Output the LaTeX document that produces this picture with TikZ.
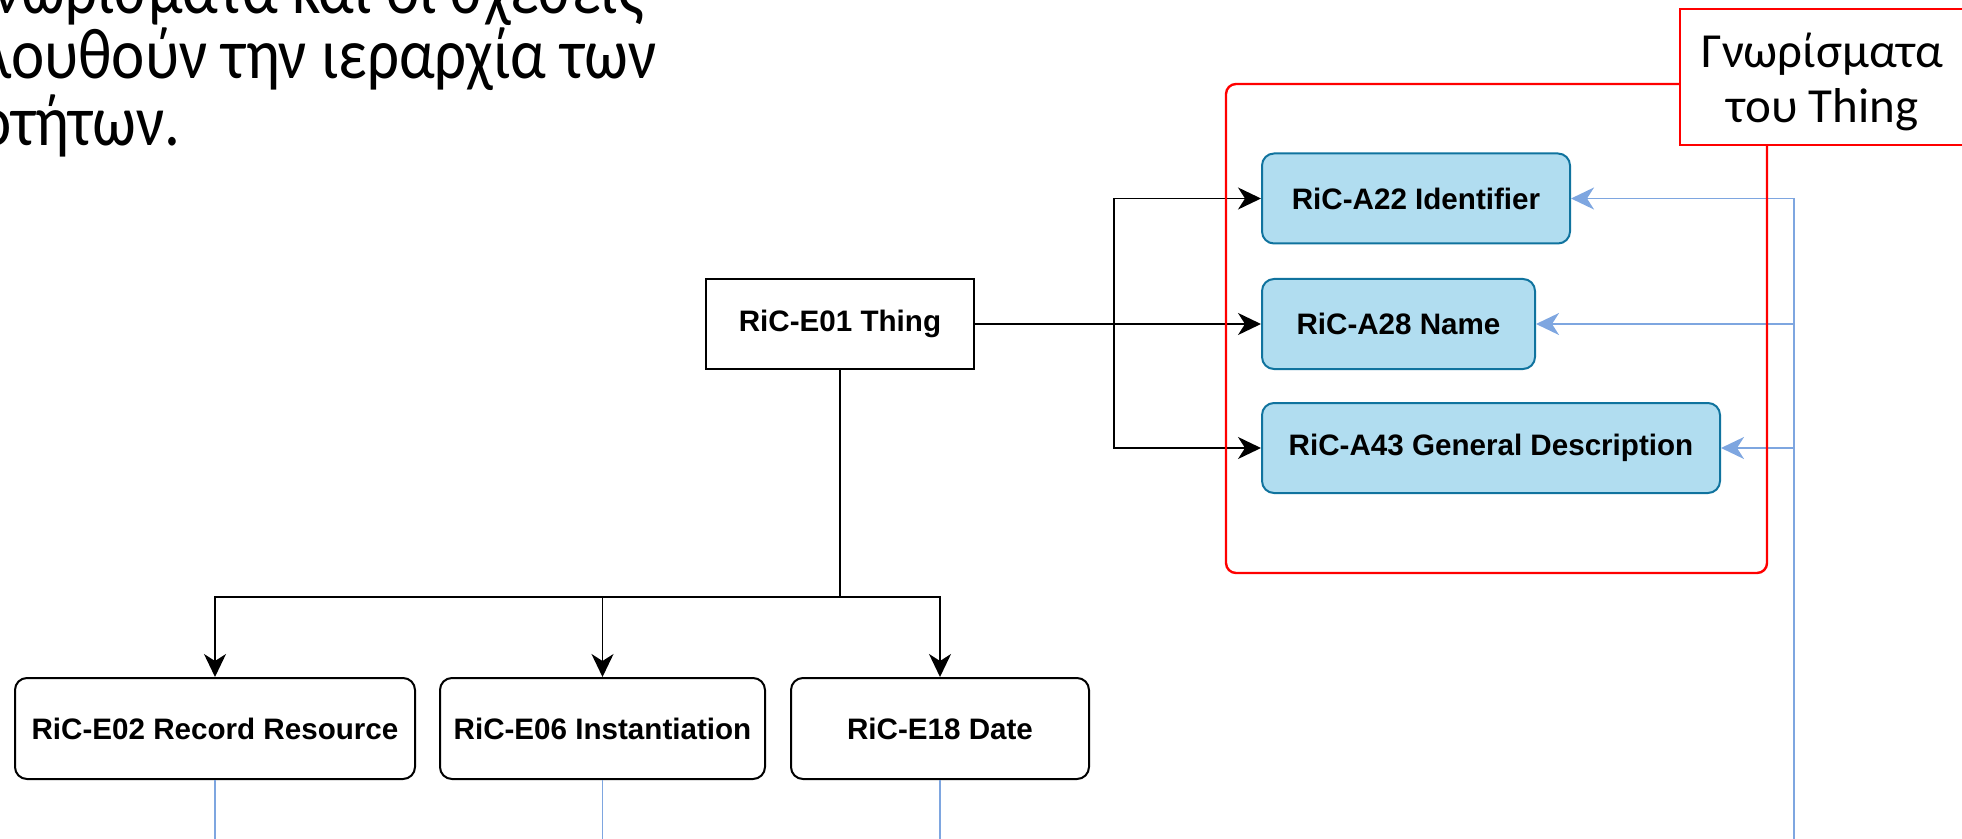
\documentclass[tikz,border=0pt]{standalone}
\usepackage{fontspec}
\setmainfont{Liberation Sans}
\newfontfamily\calfont{Carlito}
\newfontfamily\titlefont[FakeStretch=0.875]{Carlito}
\usetikzlibrary{arrows.meta}
\definecolor{bluefill}{HTML}{B1DDF0}
\definecolor{blueborder}{HTML}{10739E}
\definecolor{bluelink}{HTML}{7EA6E0}
\definecolor{redline}{HTML}{FF0000}
\begin{document}
\begin{tikzpicture}[x=0.5pt,y=-0.5pt,
  boxtext/.style={font=\bfseries\fontsize{14.8}{17}\selectfont, inner sep=0pt, minimum height=45pt},
  entity/.style={boxtext, draw=black, line width=1pt, fill=white},
  subentity/.style={entity, rounded corners=6pt},
  attrbox/.style={boxtext, draw=blueborder, line width=1pt, fill=bluefill, rounded corners=6pt},
  blackarrow/.style={draw=black, line width=0.9pt, -{Stealth[length=11.5pt,width=11pt,inset=3.5pt]}},
  bluearrow/.style={draw=bluelink, line width=0.9pt, -{Stealth[length=11.5pt,width=11pt,inset=3.5pt]}},
  blueline/.style={draw=bluelink, line width=0.9pt},
  titletext/.style={anchor=base west, inner sep=0pt, text depth=0pt, font=\titlefont\fontsize{36}{40}\selectfont},
]
\useasboundingbox (0,0) rectangle (1962,839);

% title text (cut at the left/top edge)
\node[titletext] (t1) at (-7,14) {νωρίσματα και οι σχέσεις};
\node[titletext] (t2) at (-18,79) {λουθούν την ιεραρχία των};
\node[titletext] (t3) at (-22,145.7) {οτήτων.};

% nodes
\node[entity, minimum width=134pt] (thing) at (840,324) {RiC-E01 Thing};
\node[attrbox, minimum width=154pt] (ident) at (1416,198.5) {RiC-A22 Identifier};
\node[attrbox, minimum width=136.5pt] (name) at (1398.5,324) {RiC-A28 Name};
\node[attrbox, minimum width=229pt] (gdesc) at (1491,448) {RiC-A43 General Description};
\node[subentity, minimum width=200pt, minimum height=50.5pt] (rr) at (215,728.5) {RiC-E02 Record Resource};
\node[subentity, minimum width=162.5pt, minimum height=50.5pt] (inst) at (602.5,728.5) {RiC-E06 Instantiation};
\node[subentity, minimum width=149pt, minimum height=50.5pt] (date) at (940,728.5) {RiC-E18 Date};

% black connectors
\draw[blackarrow] (thing.east) -- (name.west);
\draw[blackarrow] (thing.east) -- ++(139,0) |- (ident.west);
\draw[blackarrow] (thing.east) -- ++(139,0) |- (gdesc.west);
\draw[blackarrow] (thing.south) -- ++(0,227) -| (rr.north);
\draw[blackarrow] (thing.south) -- ++(0,227) -| (inst.north);
\draw[blackarrow] (thing.south) -- ++(0,227) -| (date.north);

% blue connectors
\coordinate (bluebus) at (1794,870);
\draw[bluearrow] (bluebus) |- (ident.east);
\draw[bluearrow] (bluebus) |- (name.east);
\draw[bluearrow] (bluebus) |- (gdesc.east);
\coordinate (rrend) at (215,870);
\coordinate (instend) at (602.5,870);
\coordinate (dateend) at (940,870);
\draw[blueline] (rr.south) -- (rrend);
\draw[blueline] (inst.south) -- (instend);
\draw[blueline] (date.south) -- (dateend);

% red group and its label
\node[draw=redline, line width=1.2pt, rounded corners=5pt, minimum width=270.5pt, minimum height=244.5pt, inner sep=0pt] (grp) at (1496.5,328.5) {};
\node[draw=redline, line width=1.3pt, fill=white, minimum width=142.5pt, minimum height=68pt, inner sep=0pt] (lbl) at (1822.5,77) {};
\node[align=center, inner sep=0pt, font=\calfont\fontsize{24.5}{27.5}\selectfont] (lbltext) at (1822.5,82) {Γνωρίσματα\\του Thing};
\end{tikzpicture}
\end{document}
